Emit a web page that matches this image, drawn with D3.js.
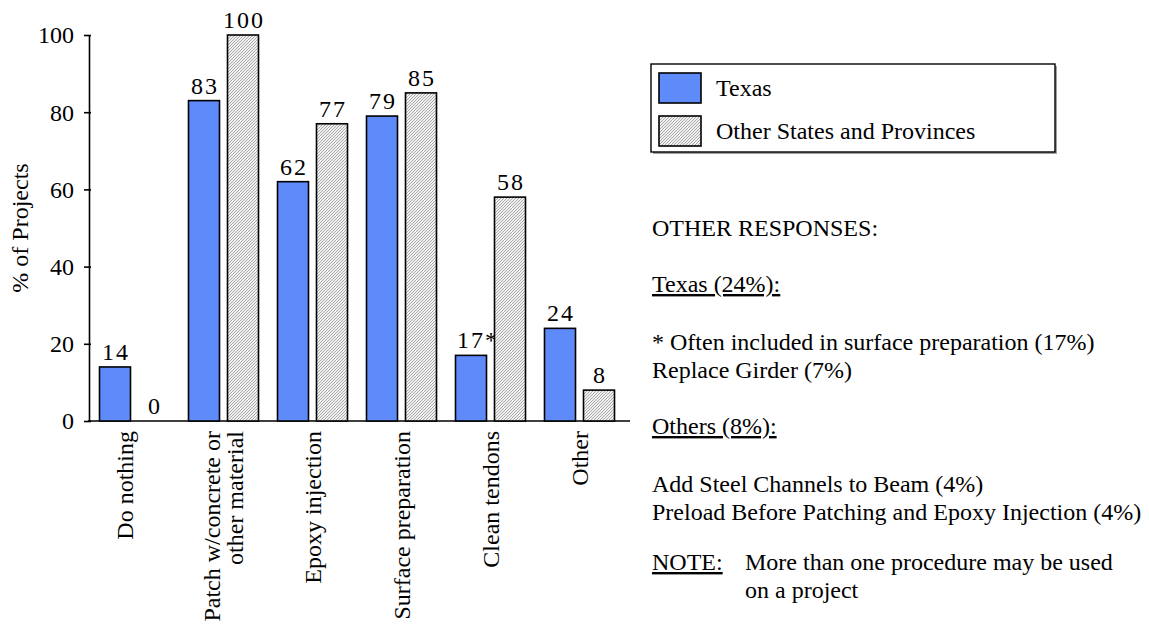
<!DOCTYPE html>
<html>
<head>
<meta charset="utf-8">
<script src="https://cdn.jsdelivr.net/npm/d3@7"></script>
<style>
  html, body { margin: 0; padding: 0; background: #fff; }
  svg { display: block; }
  svg text { font-family: "Liberation Serif", "Times New Roman", serif; }
</style>
</head>
<body>
<svg id="chart" width="1149" height="624"></svg>
<script>
// Repair procedures and the share of projects that used them
const categories = [
  ["Do nothing"],
  ["Patch w/concrete or", "other material"],
  ["Epoxy injection"],
  ["Surface preparation"],
  ["Clean tendons"],
  ["Other"]
];
const seriesNames = ["Texas", "Other States and Provinces"];
const texasValues = [14, 83, 62, 79, 17, 24];
const otherValues = [0, 100, 77, 85, 58, 8];
const texasLabels = ["14", "83", "62", "79", "17*", "24"];
const otherLabels = ["0", "100", "77", "85", "58", "8"];
const yTicks = [0, 20, 40, 60, 80, 100];

const notes = [
  { text: "OTHER RESPONSES:", y: 236 },
  { text: "Texas (24%):", y: 292, underline: true },
  { text: "* Often included in surface preparation (17%)", y: 350 },
  { text: "Replace Girder (7%)", y: 378 },
  { text: "Others (8%):", y: 434, underline: true },
  { text: "Add Steel Channels to Beam (4%)", y: 492 },
  { text: "Preload Before Patching and Epoxy Injection (4%)", y: 520 }
];

const FONT = "Liberation Serif, Times New Roman, serif";
const FS = 24;

const svg = d3.select("#chart").attr("font-family", FONT);
const fills = ["#5f8bfa", "url(#hatch)"];

// Fine diagonal hatch used for the second series
const defs = svg.append("defs");
const pat = defs.append("pattern")
  .attr("id", "hatch")
  .attr("patternUnits", "userSpaceOnUse")
  .attr("width", 3).attr("height", 3);
pat.append("rect").attr("width", 3).attr("height", 3).attr("fill", "#efefef");
pat.append("path")
  .attr("d", "M-1,1 l2,-2 M0,3 l3,-3 M2,4 l2,-2")
  .attr("stroke", "#9a9a9a").attr("stroke-width", 0.8);

const x0 = d3.scaleBand().domain(d3.range(categories.length)).range([90, 624]);
const x1 = d3.scaleBand().domain(d3.range(seriesNames.length))
  .range([-35, 35]).paddingInner(0.205);
const y = d3.scaleLinear().domain([0, 100]).range([421, 35]);

// Y axis
const yAxis = svg.append("g")
  .attr("transform", "translate(89,0)")
  .call(d3.axisLeft(y).tickValues(yTicks).tickSize(5).tickPadding(10).tickSizeOuter(0));
yAxis.attr("font-family", FONT).attr("font-size", FS);
yAxis.select(".domain").attr("stroke", "#000").attr("stroke-width", 1.6);
yAxis.selectAll(".tick line").attr("stroke", "#000").attr("stroke-width", 1.6)
  .attr("x1", 2);
yAxis.selectAll(".tick text")
  .attr("fill", "#000")
  .attr("dy", "0.33em");

// X baseline
svg.append("line")
  .attr("x1", 88).attr("x2", x0.range()[1] + 6)
  .attr("y1", y(0)).attr("y2", y(0))
  .attr("stroke", "#000").attr("stroke-width", 1.6);

// Y axis title
svg.append("text")
  .attr("transform", `translate(28,${(y(0) + y(100)) / 2}) rotate(-90)`)
  .attr("text-anchor", "middle")
  .attr("font-size", FS)
  .text("% of Projects");

// Bars and value labels
const seriesData = [texasValues, otherValues];
const seriesLabels = [texasLabels, otherLabels];
seriesData.forEach((vals, s) => {
  const g = svg.append("g");
  g.selectAll("rect")
    .data(vals.map((v, i) => ({ v, i })).filter(d => d.v > 0))
    .join("rect")
    .attr("x", d => x0(d.i) + x0.bandwidth() / 2 + x1(s))
    .attr("y", d => y(d.v))
    .attr("width", x1.bandwidth())
    .attr("height", d => y(0) - y(d.v))
    .attr("fill", fills[s])
    .attr("stroke", "#000")
    .attr("stroke-width", 1.6);
  g.selectAll("text")
    .data(vals.map((v, i) => ({ v, i, label: seriesLabels[s][i] })))
    .join("text")
    .attr("x", d => x0(d.i) + x0.bandwidth() / 2 + x1(s) + x1.bandwidth() / 2 + 1 + (d.label.endsWith("*") ? 6 : 0))
    .attr("y", d => y(d.v) - 7)
    .attr("text-anchor", "middle")
    .attr("font-size", FS)
    .attr("letter-spacing", 2)
    .text(d => d.label);
});

// Category labels, rotated
categories.forEach((lines, i) => {
  const cx = x0(i) + x0.bandwidth() / 2 - (i === 0 ? 10 : 0);
  const t = svg.append("text")
    .attr("transform", `translate(${cx},431) rotate(-90)`)
    .attr("text-anchor", "end")
    .attr("font-size", FS);
  const n = lines.length;
  lines.forEach((line, k) => {
    t.append("tspan")
      .attr("x", 0)
      .attr("y", (k - (n - 1) / 2) * 23 + 8)
      .text(line);
  });
});

// Legend
const lg = svg.append("g");
lg.append("rect").attr("x", 653).attr("y", 66).attr("width", 404).attr("height", 88)
  .attr("fill", "#a0a0a0");
lg.append("rect").attr("x", 651).attr("y", 64).attr("width", 404).attr("height", 88)
  .attr("fill", "#fff").attr("stroke", "#000").attr("stroke-width", 1.4);
seriesNames.forEach((name, s) => {
  const yy = 73 + s * 43;
  lg.append("rect").attr("x", 659).attr("y", yy).attr("width", 42).attr("height", 30)
    .attr("fill", fills[s]).attr("stroke", "#000").attr("stroke-width", 1.6);
  lg.append("text").attr("x", 716).attr("y", yy + 23)
    .attr("font-size", FS).text(name);
});

// Notes on the right
const ng = svg.append("g").attr("font-size", FS);
notes.forEach(n => {
  ng.append("text").attr("x", 652).attr("y", n.y)
    .attr("text-decoration", n.underline ? "underline" : null)
    .text(n.text);
});
ng.append("text").attr("x", 652).attr("y", 570)
  .attr("text-decoration", "underline").text("NOTE:");
ng.append("text").attr("x", 745).attr("y", 570)
  .text("More than one procedure may be used");
ng.append("text").attr("x", 745).attr("y", 598)
  .text("on a project");
</script>
</body>
</html>
